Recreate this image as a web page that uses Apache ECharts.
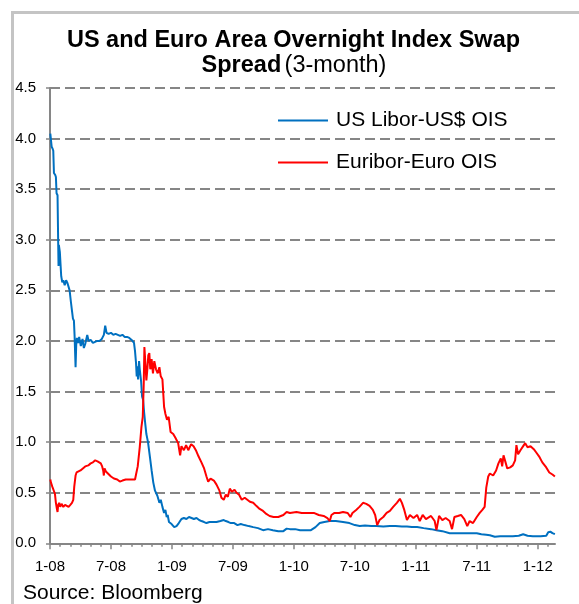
<!DOCTYPE html>
<html>
<head>
<meta charset="utf-8">
<script src="https://cdn.jsdelivr.net/npm/echarts@6/dist/echarts.min.js"></script>
<style>
html,body{margin:0;padding:0;background:#fff;}
#c{width:579px;height:604px;}
</style>
</head>
<body>
<div id="c"></div>
<script>
// ---- data ----
const titleLine1 = 'US and Euro Area Overnight Index Swap';
const titleBold2 = 'Spread';
const titleNorm2 = '(3-month)';
const sourceText = 'Source: Bloomberg';
const seriesNames = ['US Libor-US$ OIS', 'Euribor-Euro OIS'];
const yTicks = [0, 0.5, 1, 1.5, 2, 2.5, 3, 3.5, 4, 4.5];
const xTickLabels = ['1-08', '7-08', '1-09', '7-09', '1-10', '7-10', '1-11', '7-11', '1-12'];

const usDates = ['2008-01-02','2008-01-04','2008-01-06','2008-01-09','2008-01-11','2008-01-13','2008-01-17','2008-01-19','2008-01-21','2008-01-24','2008-01-26','2008-01-27','2008-01-28','2008-01-31','2008-02-04','2008-02-07','2008-02-10','2008-02-14','2008-02-18','2008-02-22','2008-02-25','2008-02-28','2008-03-03','2008-03-06','2008-03-09','2008-03-12','2008-03-14','2008-03-17','2008-03-19','2008-03-21','2008-03-25','2008-03-28','2008-04-02','2008-04-07','2008-04-11','2008-04-15','2008-04-21','2008-04-25','2008-05-01','2008-05-08','2008-05-14','2008-05-21','2008-05-28','2008-06-04','2008-06-10','2008-06-14','2008-06-18','2008-06-24','2008-07-01','2008-07-08','2008-07-15','2008-07-22','2008-07-29','2008-08-05','2008-08-12','2008-08-19','2008-08-26','2008-09-02','2008-09-09','2008-09-12','2008-09-15','2008-09-17','2008-09-19','2008-09-21','2008-09-24','2008-09-26','2008-09-30','2008-10-03','2008-10-06','2008-10-09','2008-10-12','2008-10-16','2008-10-21','2008-10-27','2008-11-01','2008-11-06','2008-11-11','2008-11-18','2008-11-24','2008-11-28','2008-12-03','2008-12-08','2008-12-12','2008-12-16','2008-12-19','2008-12-23','2008-12-31','2009-01-08','2009-01-15','2009-01-22','2009-01-30','2009-02-06','2009-02-13','2009-02-20','2009-02-27','2009-03-06','2009-03-14','2009-03-22','2009-03-29','2009-04-06','2009-04-13','2009-04-22','2009-05-01','2009-05-13','2009-05-25','2009-06-04','2009-06-10','2009-06-18','2009-06-25','2009-07-05','2009-07-15','2009-07-25','2009-08-05','2009-08-18','2009-09-01','2009-09-15','2009-09-30','2009-10-15','2009-10-30','2009-11-15','2009-11-30','2009-12-10','2009-12-20','2010-01-05','2010-01-20','2010-02-05','2010-02-20','2010-03-05','2010-03-18','2010-04-01','2010-04-17','2010-05-05','2010-05-27','2010-06-15','2010-07-01','2010-07-16','2010-08-01','2010-08-20','2010-09-05','2010-09-25','2010-10-15','2010-11-01','2010-11-20','2010-12-05','2010-12-20','2011-01-05','2011-01-25','2011-02-15','2011-03-02','2011-03-20','2011-04-11','2011-04-25','2011-05-15','2011-06-01','2011-06-20','2011-07-01','2011-07-15','2011-07-30','2011-08-10','2011-08-25','2011-09-10','2011-09-25','2011-10-18','2011-11-05','2011-11-18','2011-12-01','2011-12-17','2012-01-10','2012-01-27','2012-02-02','2012-02-08','2012-02-14','2012-02-21'];
const usValues = [4.05,4.06,3.92,3.90,3.88,3.66,3.64,3.62,3.46,3.44,2.96,2.74,2.95,2.88,2.64,2.58,2.60,2.55,2.60,2.57,2.58,2.50,2.38,2.30,2.22,2.20,2.05,1.74,1.96,2.03,1.98,2.04,1.95,2.02,1.93,1.97,2.06,2.00,2.01,1.98,1.99,2.00,2.00,2.02,2.06,2.15,2.08,2.07,2.08,2.06,2.07,2.06,2.05,2.06,2.04,2.04,2.03,2.01,1.98,1.90,1.78,1.65,1.75,1.62,1.80,1.72,1.60,1.45,1.42,1.30,1.20,1.08,1.00,0.85,0.72,0.60,0.52,0.47,0.40,0.43,0.36,0.30,0.33,0.26,0.28,0.21,0.19,0.16,0.17,0.20,0.24,0.25,0.24,0.26,0.25,0.24,0.25,0.23,0.22,0.21,0.20,0.21,0.21,0.21,0.22,0.23,0.22,0.21,0.20,0.20,0.18,0.19,0.18,0.17,0.16,0.15,0.13,0.14,0.13,0.12,0.12,0.145,0.14,0.14,0.13,0.13,0.13,0.16,0.20,0.21,0.22,0.22,0.21,0.20,0.18,0.17,0.175,0.17,0.17,0.165,0.17,0.17,0.165,0.165,0.16,0.16,0.15,0.14,0.13,0.12,0.10,0.10,0.10,0.10,0.10,0.10,0.09,0.085,0.08,0.065,0.07,0.07,0.07,0.075,0.09,0.075,0.07,0.07,0.075,0.11,0.115,0.10,0.09];

const euDates = ['2008-01-02','2008-01-04','2008-01-08','2008-01-12','2008-01-16','2008-01-19','2008-01-22','2008-01-24','2008-01-26','2008-01-29','2008-02-01','2008-02-05','2008-02-10','2008-02-15','2008-02-20','2008-02-25','2008-03-01','2008-03-06','2008-03-10','2008-03-13','2008-03-17','2008-03-20','2008-03-25','2008-04-01','2008-04-08','2008-04-15','2008-04-24','2008-05-01','2008-05-08','2008-05-15','2008-05-22','2008-06-01','2008-06-05','2008-06-08','2008-06-10','2008-06-12','2008-06-16','2008-06-22','2008-07-01','2008-07-10','2008-07-20','2008-07-28','2008-08-05','2008-08-15','2008-08-25','2008-09-05','2008-09-12','2008-09-15','2008-09-20','2008-09-26','2008-10-01','2008-10-05','2008-10-08','2008-10-10','2008-10-13','2008-10-16','2008-10-19','2008-10-22','2008-10-25','2008-10-28','2008-11-01','2008-11-05','2008-11-09','2008-11-14','2008-11-19','2008-11-24','2008-11-28','2008-12-03','2008-12-08','2008-12-12','2008-12-17','2008-12-22','2008-12-28','2009-01-05','2009-01-12','2009-01-20','2009-01-26','2009-01-30','2009-02-06','2009-02-12','2009-02-18','2009-02-26','2009-03-05','2009-03-12','2009-03-20','2009-03-29','2009-04-06','2009-04-13','2009-04-18','2009-04-25','2009-05-05','2009-05-13','2009-05-22','2009-05-28','2009-06-04','2009-06-10','2009-06-16','2009-06-22','2009-06-28','2009-07-06','2009-07-12','2009-07-20','2009-07-28','2009-08-06','2009-08-14','2009-08-22','2009-09-01','2009-09-10','2009-09-20','2009-09-30','2009-10-10','2009-10-20','2009-11-01','2009-11-15','2009-11-30','2009-12-10','2009-12-20','2010-01-09','2010-01-25','2010-02-10','2010-02-28','2010-03-15','2010-03-30','2010-04-10','2010-04-17','2010-04-22','2010-05-01','2010-05-15','2010-05-27','2010-06-10','2010-06-18','2010-06-24','2010-07-05','2010-07-15','2010-07-26','2010-08-05','2010-08-15','2010-08-25','2010-09-01','2010-09-07','2010-09-14','2010-09-25','2010-10-05','2010-10-15','2010-10-25','2010-11-05','2010-11-14','2010-11-20','2010-11-27','2010-12-05','2010-12-14','2010-12-25','2011-01-05','2011-01-13','2011-01-22','2011-02-01','2011-02-15','2011-02-25','2011-03-02','2011-03-10','2011-03-20','2011-03-30','2011-04-11','2011-04-18','2011-04-25','2011-05-05','2011-05-15','2011-05-25','2011-06-03','2011-06-10','2011-06-20','2011-07-01','2011-07-10','2011-07-18','2011-07-25','2011-07-30','2011-08-05','2011-08-10','2011-08-20','2011-08-29','2011-09-05','2011-09-12','2011-09-16','2011-09-20','2011-09-26','2011-10-01','2011-10-10','2011-10-18','2011-10-25','2011-10-29','2011-11-03','2011-11-10','2011-11-18','2011-11-24','2011-12-01','2011-12-10','2011-12-20','2011-12-27','2012-01-05','2012-01-15','2012-01-27','2012-02-05','2012-02-14','2012-02-21'];
const euValues = [0.63,0.60,0.56,0.55,0.49,0.40,0.34,0.31,0.38,0.40,0.36,0.39,0.36,0.38,0.37,0.36,0.38,0.40,0.43,0.56,0.67,0.70,0.69,0.72,0.74,0.76,0.77,0.79,0.80,0.82,0.81,0.79,0.76,0.72,0.67,0.74,0.71,0.69,0.66,0.64,0.63,0.61,0.62,0.63,0.63,0.63,0.63,0.68,0.76,0.95,1.15,1.25,1.58,1.94,1.78,1.61,1.72,1.86,1.88,1.72,1.82,1.68,1.80,1.72,1.68,1.74,1.65,1.62,1.35,1.28,1.22,1.25,1.10,1.08,1.04,0.99,0.87,0.96,0.92,0.97,0.92,0.98,0.96,0.92,0.86,0.80,0.74,0.66,0.61,0.64,0.62,0.58,0.52,0.45,0.43,0.48,0.46,0.54,0.51,0.53,0.50,0.48,0.43,0.45,0.43,0.41,0.40,0.37,0.34,0.32,0.29,0.27,0.26,0.26,0.28,0.31,0.30,0.31,0.30,0.30,0.30,0.28,0.27,0.25,0.22,0.28,0.30,0.30,0.31,0.30,0.26,0.30,0.33,0.36,0.40,0.39,0.37,0.33,0.28,0.18,0.23,0.26,0.30,0.32,0.36,0.40,0.44,0.40,0.33,0.23,0.28,0.25,0.28,0.22,0.28,0.24,0.27,0.22,0.13,0.27,0.23,0.25,0.22,0.14,0.26,0.27,0.28,0.24,0.17,0.22,0.20,0.26,0.30,0.33,0.36,0.55,0.66,0.69,0.67,0.72,0.79,0.84,0.76,0.87,0.80,0.74,0.75,0.77,0.82,0.97,0.88,0.92,0.96,0.99,0.95,0.96,0.93,0.90,0.86,0.80,0.75,0.70,0.68,0.66];

// ---- helpers ----
function monthOffset(s) {
  const p = s.split('-').map(Number);
  const dim = new Date(p[0], p[1], 0).getDate();
  return (p[0] - 2008) * 12 + (p[1] - 1) + (p[2] - 1) / dim;
}
function pairs(dates, vals) { return dates.map((d, i) => [monthOffset(d), vals[i]]); }

const FONT = '"Liberation Sans", Arial, sans-serif';
const GRAY = '#868686';
const chart = echarts.init(document.getElementById('c'), null, {renderer: 'canvas'});
chart.setOption({
  backgroundColor: '#ffffff',
  animation: false,
  textStyle: {fontFamily: FONT},
  grid: {left: 50, right: 24, top: 88, bottom: 60.7, containLabel: false},
  xAxis: {
    type: 'value', min: 0, max: 49.7, interval: 6,
    axisLine: {show: true, onZero: false, lineStyle: {color: GRAY, width: 2}},
    axisTick: {show: true, length: 6, lineStyle: {color: GRAY, width: 1.5}, customValues: xTickLabels.map((_, i) => i * 6)},
    minorTick: {show: true, splitNumber: 6, length: 3.5, lineStyle: {color: GRAY, width: 1.5}},
    axisLabel: {fontSize: 15, color: '#000', margin: 16, fontFamily: FONT,
      customValues: xTickLabels.map((_, i) => i * 6),
      formatter: v => xTickLabels[Math.round(v / 6)] || ''},
    splitLine: {show: false}
  },
  yAxis: {
    type: 'value', min: 0, max: 4.5, interval: 0.5,
    axisLine: {show: true, lineStyle: {color: GRAY, width: 2}},
    axisTick: {show: true, length: 4, lineStyle: {color: GRAY, width: 1.5}},
    axisLabel: {fontSize: 15, color: '#000', margin: 14, fontFamily: FONT, formatter: v => v.toFixed(1)},
    splitLine: {show: true, lineStyle: {color: GRAY, width: 2, type: [10, 5]}}
  },
  legend: {
    data: seriesNames, orient: 'vertical', left: 278, top: 110, padding: 0,
    itemWidth: 50, itemHeight: 2, itemGap: 21, icon: 'rect',
    textStyle: {fontSize: 21, color: '#000', fontFamily: FONT, padding: [0, 0, 0, 3]}
  },
  series: [
    {name: seriesNames[0], type: 'line', data: pairs(usDates, usValues), showSymbol: false, symbol: 'none',
      lineStyle: {color: '#0070C0', width: 2}, itemStyle: {color: '#0070C0'}},
    {name: seriesNames[1], type: 'line', data: pairs(euDates, euValues), showSymbol: false, symbol: 'none',
      lineStyle: {color: '#FF0000', width: 2}, itemStyle: {color: '#FF0000'}}
  ],
  graphic: [
    {type: 'rect', left: 10, top: 10, silent: true, z: -1,
      shape: {x: 0, y: 0, width: 620, height: 640}, style: {fill: 'none', stroke: '#c4c4c4', lineWidth: 3}},
    {type: 'text', x: 293.5, y: 41, style: {text: titleLine1, font: 'bold 23.5px ' + FONT, fill: '#000', textAlign: 'center', textVerticalAlign: 'middle'}},
    {type: 'text', x: 294, y: 66, style: {
      text: '{b|' + titleBold2 + '} {n|' + titleNorm2 + '}', textAlign: 'center', textVerticalAlign: 'middle', fill: '#000',
      rich: {b: {fontSize: 23.5, fontWeight: 'bold', fontFamily: FONT, fill: '#000'}, n: {fontSize: 23.5, fontFamily: FONT, fill: '#000'}}}},
    {type: 'text', x: 23, y: 593.5, style: {text: sourceText, font: '21px ' + FONT, fill: '#000', textAlign: 'left', textVerticalAlign: 'middle'}}
  ]
});
</script>
</body>
</html>
